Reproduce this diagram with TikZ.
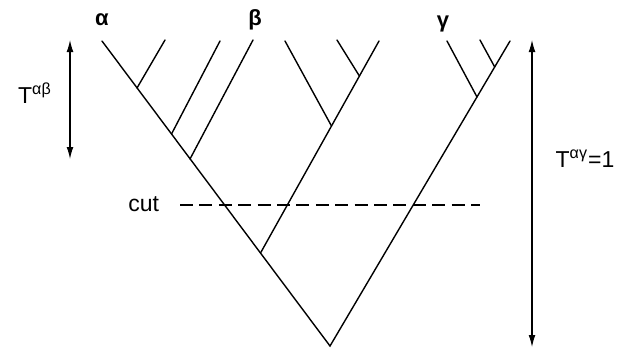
\documentclass[tikz,border=0pt]{standalone}
\usepackage{fontspec}
\setmainfont{Liberation Sans}
\usetikzlibrary{arrows.meta,calc}

\tikzset{
	branch/.style={line width=0.7pt, line cap=round},
	span/.style={line width=0.55pt, {Latex[length=6pt,width=3.4pt]}-{Latex[length=6pt,width=3.4pt]}},
	cutline/.style={line width=0.6pt, dash pattern=on 6.5pt off 3.2pt},
	leaflabel/.style={font=\fontsize{11}{12}\selectfont\bfseries},
	lbl/.style={font=\fontsize{11.5}{13}\selectfont}
}

\begin{document}
\begin{tikzpicture}[x=0.5pt, y=-0.5pt]

		% === picture bounds ===
		\useasboundingbox (0,0) rectangle (625,350);

		% === root and main branches ===
		\coordinate (root) at (330,346);
		\coordinate (la) at (102,41);		% alpha leaf
		\coordinate (rc) at (510,41);		% rightmost leaf

		% === left subtree ===
		\coordinate (l2) at (165,40);	\coordinate (j1) at (137,88);
		\coordinate (l3) at (220,41);	\coordinate (j2) at (171.5,134);
		\coordinate (lb) at (253,40);	\coordinate (j3) at (190,159);
		\coordinate (j4) at (260.5,253);

		% === middle subtree ===
		\coordinate (m1) at (285,41);	\coordinate (j5) at (331.5,126);
		\coordinate (m2) at (337,40);	\coordinate (j6) at (359.4,76);
		\coordinate (m3) at (379,41);

		% === right subtree ===
		\coordinate (lg) at (447,41);	\coordinate (j7) at (477,97);
		\coordinate (r2) at (480,40);	\coordinate (j8) at (494.7,67);

		% === tree ===
		\draw[branch] (la) -- (root) -- (rc);
		\foreach \leaf/\join in {l2/j1, l3/j2, lb/j3, m3/j4, m1/j5, m2/j6, lg/j7, r2/j8}
			\draw[branch] (\leaf) -- (\join);

		% === leaf labels ===
		\node[leaflabel] (alpha) at (102,20) {α};
		\node[leaflabel] (beta) at (255,20) {β};
		\node[leaflabel] (gamma) at (443,24) {γ};

		% === cut ===
		\coordinate (cs) at (180,205);	\coordinate (ce) at (480,205);
		\draw[cutline] (cs) -- (ce);
		\node[lbl, anchor=east] (cut) at (166,204) {cut};

		% === time spans ===
		\coordinate (ta) at (70,40);	\coordinate (tb) at (70,159);
		\coordinate (tc) at (532,40);	\coordinate (td) at (532,347);
		\draw[span] (ta) -- (tb);
		\draw[span] (tc) -- (td);
		\node[lbl] (tab) at (35,93) {T\textsuperscript{αβ}};
		\node[lbl] (tag) at (585,159) {T\textsuperscript{αγ}=1};

	\end{tikzpicture}
\end{document}
